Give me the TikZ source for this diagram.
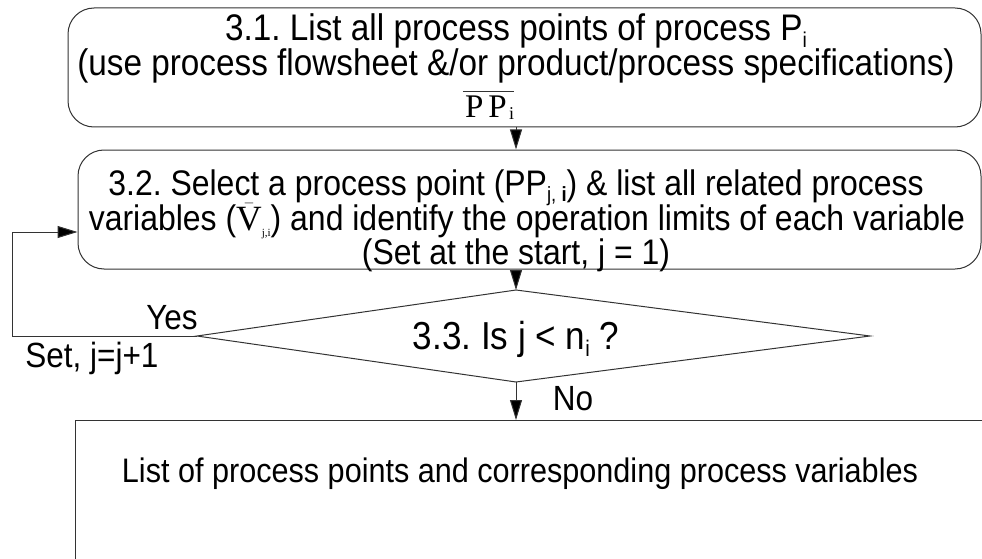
\documentclass[tikz,border=0pt]{standalone}
\usepackage{fontspec}
\setmainfont{Liberation Sans}[FakeStretch=0.9]
\newfontfamily\serif{Liberation Serif}
\usetikzlibrary{arrows.meta}
\newcommand{\lowsub}[1]{\raisebox{-0.18em}{\fontsize{0.58em}{0.58em}\selectfont #1}}
\begin{document}
\frenchspacing
\begin{tikzpicture}[x=1pt,y=-1pt,
  line/.style={draw=black!80,line width=1pt},
  arr/.style={line,-{Triangle[length=20pt,width=12pt,fill=black]}},
  rbox/.style={line,rounded corners=26pt,minimum height=119pt,inner sep=0pt},
  txta/.style={inner sep=0pt,anchor=base,font=\fontsize{37}{37}\selectfont},
  txtb/.style={inner sep=0pt,anchor=base,font=\fontsize{35.5}{35.5}\selectfont},
  lbl/.style={inner sep=0pt,font=\fontsize{35}{35}\selectfont}]
\useasboundingbox (0,0) rectangle (982,559);
\clip (0,0) rectangle (982,559);
% boxes
\node[rbox,minimum width=913pt] (b1) at (524.5,67.5) {};
\node[rbox,minimum width=903pt] (b2) at (529.5,209.5) {};
\node[line,minimum width=960pt,minimum height=200pt,inner sep=0pt,anchor=north west] (b4) at (75,420) {};
% diamond
\coordinate (dl) at (197,336);
\coordinate (dt) at (516,290);
\coordinate (dr) at (870,336);
\coordinate (db) at (516,382);
\draw[line] (dl) -- (dt) -- (dr) -- (db) -- cycle;
% texts box 1
\node[txta] (t11) at (516,41) {3.1. List all process points of process P\lowsub{i}};
\node[txta] (t12) at (516,76) {(use process flowsheet \&/or product/process specifications)};
\node[inner sep=0pt,anchor=base east] (pp) at (507,118) {\serif\fontsize{33}{33}\selectfont P\hspace{5pt}P};
\node[inner sep=0pt,anchor=base west] (ppi) at ([xshift=2pt,yshift=-2pt]pp.base east) {\serif\fontsize{18}{18}\selectfont i};
\draw[line,line width=1.1pt] ([yshift=5pt,xshift=-2pt]pp.north west) -- ([yshift=5pt]pp.north east -| ppi.east);
% texts box 2
\node[txtb] (t21) at (516,195) {3.2. Select a process point (PP\lowsub{j, \textbf{i}}) \& list all related process};
\node[txtb] (t22) at (527,230) {variables ({\serif$\bar{\hbox{V}}$}\raisebox{-6pt}{\serif\fontsize{11}{11}\selectfont j,i}) and identify the operation limits of each variable};
\node[txtb] (t23) at (516,264) {(Set at the start, j = 1)};
\node[txta,font=\fontsize{39}{39}\selectfont] (t3) at (516,349) {3.3. Is j < n\lowsub{i} ?};
\node[txtb,font=\fontsize{34}{34}\selectfont] (t4) at (520,482) {List of process points and corresponding process variables};
\node[lbl] (yes) at (172,318) {Yes};
\node[lbl] (setj) at (92,358) {Set, j=j+1};
\node[lbl] (no) at (573,399) {No};
% connectors
\coordinate (l1) at (12,336);
\coordinate (l2) at (12,232);
\coordinate (b2w) at (b2.west |- l2);
\draw[arr] (b1.south -| dt) -- (b2.north -| dt);
\draw[arr] (b2.south -| dt) -- (dt);
\draw[arr] (db) -- (b4.north -| db);
\draw[arr] (dl) -- (l1) -- (l2) -- (b2w);
\end{tikzpicture}
\end{document}
